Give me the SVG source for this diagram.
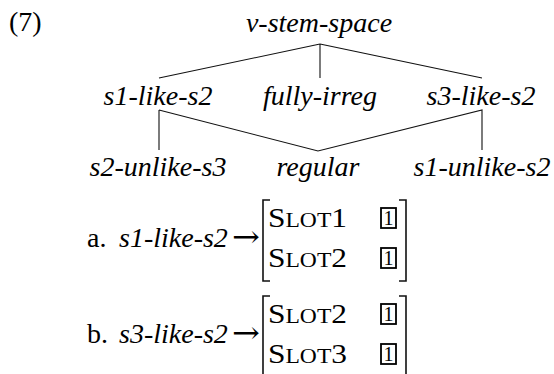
<svg xmlns="http://www.w3.org/2000/svg" width="554" height="374" viewBox="0 0 554 374">
<style>
text{font-family:"Liberation Serif","Times New Roman",serif;font-size:28px;fill:#000}
.it{font-style:italic}
.n{text-anchor:middle;font-style:italic}
.sc{font-size:21px}
.arr{font-family:"DejaVu Serif","DejaVu Sans",serif;font-size:30px}
.edge{stroke:#111;stroke-width:1.1;fill:none}
.brk{stroke:#111;stroke-width:1.6;fill:none}
.box{stroke:#000;stroke-width:1.8;fill:none}
.tag{font-size:20px;text-anchor:middle}
</style>
<rect width="554" height="374" fill="#fff"/>
<text x="9" y="31">(7)</text>
<g id="connectors">
<path class="edge" d="M320,44 L159,78 M320,44 L320,78 M320,44 L482,78"/>
<path class="edge" d="M159,110 L159,150 M159,110 L318,151 L482,110 L482,150"/>
</g>
<g id="v-stem-space"><text class="n" x="319" y="32">v-stem-space</text></g>
<g id="s1-like-s2"><text class="n" x="158" y="105">s1-like-s2</text></g>
<g id="fully-irreg"><text class="n" x="320" y="105">fully-irreg</text></g>
<g id="s3-like-s2"><text class="n" x="481" y="105">s3-like-s2</text></g>
<g id="s2-unlike-s3"><text class="n" x="158" y="176">s2-unlike-s3</text></g>
<g id="regular"><text class="n" x="318" y="176">regular</text></g>
<g id="s1-unlike-s2"><text class="n" x="482" y="176">s1-unlike-s2</text></g>
<g id="ex-a">
<text x="87" y="247">a.</text>
<text class="it" x="119" y="247">s1-like-s2</text>
<text class="arr" x="232" y="247" textLength="28" lengthAdjust="spacingAndGlyphs">→</text>
<path class="brk" d="M270,200 H263 V281 H270"/>
<text x="268" y="227" textLength="79" lengthAdjust="spacingAndGlyphs">S<tspan class="sc">LOT</tspan>1</text>
<text x="268" y="267" textLength="79" lengthAdjust="spacingAndGlyphs">S<tspan class="sc">LOT</tspan>2</text>
<rect class="box" x="381" y="208" width="15" height="20"/>
<text class="tag" x="388.5" y="225">1</text>
<rect class="box" x="381" y="248" width="15" height="20"/>
<text class="tag" x="388.5" y="265">1</text>
<path class="brk" d="M399,200 H406 V281 H399"/>
</g>
<g id="ex-b">
<text x="87" y="343">b.</text>
<text class="it" x="119" y="343">s3-like-s2</text>
<text class="arr" x="232" y="343" textLength="28" lengthAdjust="spacingAndGlyphs">→</text>
<path class="brk" d="M270,296 H263 V377 H270"/>
<text x="268" y="323" textLength="79" lengthAdjust="spacingAndGlyphs">S<tspan class="sc">LOT</tspan>2</text>
<text x="268" y="363" textLength="79" lengthAdjust="spacingAndGlyphs">S<tspan class="sc">LOT</tspan>3</text>
<rect class="box" x="381" y="304" width="15" height="20"/>
<text class="tag" x="388.5" y="321">1</text>
<rect class="box" x="381" y="344" width="15" height="20"/>
<text class="tag" x="388.5" y="361">1</text>
<path class="brk" d="M399,296 H406 V377 H399"/>
</g>
</svg>
